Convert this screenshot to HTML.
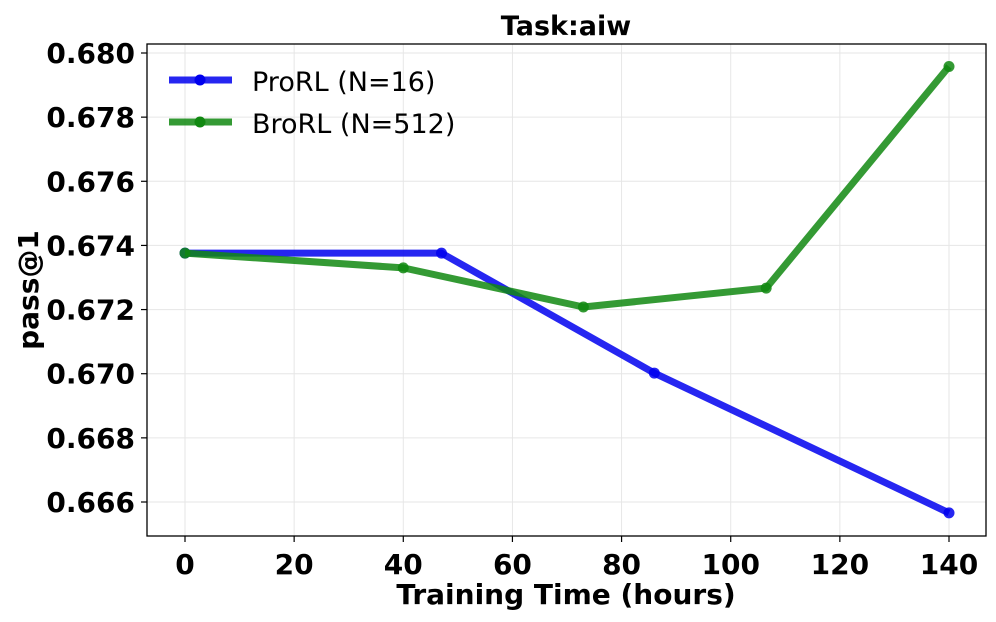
<!DOCTYPE html>
<html><head><meta charset="utf-8"><style>
body{margin:0;background:#fff;}
svg{display:block;font-family:"DejaVu Sans",sans-serif;}
</style></head><body>
<svg id="chart" width="996" height="622"></svg>
<script>
const xTicks=[0,20,40,60,80,100,120,140];
const yTicks=[0.666,0.668,0.670,0.672,0.674,0.676,0.678,0.680];
const proX=[0,47,86,140];
const proY=[0.67376,0.67376,0.67002,0.66566];
const broX=[0,40,73,106.5,140];
const broY=[0.67376,0.6733,0.67208,0.67267,0.67958];
const svg=document.getElementById('chart');
const NS='http://www.w3.org/2000/svg';
const L=147,R=986,T=44,B=536;
const sx=v=>185+(v-0)*(949-185)/140;
const sy=v=>53+(0.680-v)*(502-53)/0.014;
function mk(t,a,p){const e=document.createElementNS(NS,t);for(const k in a)e.setAttribute(k,a[k]);(p||svg).appendChild(e);return e;}
const grid=mk('g',{});


xTicks.forEach(v=>{mk('line',{x1:sx(v),x2:sx(v),y1:T,y2:B,stroke:'#e6e6e6','stroke-width':1},grid);});
yTicks.forEach(v=>{mk('line',{x1:L,x2:R,y1:sy(v),y2:sy(v),stroke:'#e6e6e6','stroke-width':1},grid);});
const xa=mk('g',{});


xTicks.forEach(v=>{mk('line',{x1:sx(v),x2:sx(v),y1:B,y2:B+6,stroke:'#000','stroke-width':1.2},xa);
const t=mk('text',{x:sx(v),y:B+38,'text-anchor':'middle','font-size':28,'font-weight':'bold'},xa);t.textContent=v;});
const ya=mk('g',{});


yTicks.forEach(v=>{mk('line',{x1:L-6,x2:L,y1:sy(v),y2:sy(v),stroke:'#000','stroke-width':1.2},ya);
const t=mk('text',{x:L-12,y:sy(v)+10,'text-anchor':'end','font-size':28,'font-weight':'bold'},ya);t.textContent=v.toFixed(3);});
function series(xs,ys,c,name){const g=mk('g',{});


mk('polyline',{points:xs.map((x,i)=>sx(x)+','+sy(ys[i])).join(' '),fill:'none',stroke:c,'stroke-width':7,'stroke-opacity':0.85,'stroke-linejoin':'round'},g);
xs.forEach((x,i)=>mk('circle',{cx:sx(x),cy:sy(ys[i]),r:5.5,fill:c,'fill-opacity':0.85},g));}
series(proX,proY,'#0000ee','series-prorl');
series(broX,broY,'#118811','series-brorl');
const fr=mk('rect',{x:L,y:T,width:R-L,height:B-T,fill:'none',stroke:'#000','stroke-width':1.3});


const lg=mk('g',{});


[['ProRL (N=16)','#0000ee',80],['BroRL (N=512)','#118811',122]].forEach(([n,c,y])=>{
mk('line',{x1:169,x2:232,y1:y,y2:y,stroke:c,'stroke-width':7,'stroke-opacity':0.85},lg);
mk('circle',{cx:200,cy:y,r:5.5,fill:c},lg);
const t=mk('text',{x:252,y:y+11,'font-size':27},lg);t.textContent=n;});
const tt=mk('text',{x:566,y:35,'text-anchor':'middle','font-size':27,'font-weight':'bold'});tt.textContent='Task:aiw';


const xt=mk('text',{x:566,y:604,'text-anchor':'middle','font-size':28,'font-weight':'bold'});xt.textContent='Training Time (hours)';


const yt=mk('text',{x:0,y:0,'text-anchor':'middle','font-size':28,'font-weight':'bold',transform:'translate(38,290) rotate(-90)'});yt.textContent='pass@1';


</script>
</body></html>
